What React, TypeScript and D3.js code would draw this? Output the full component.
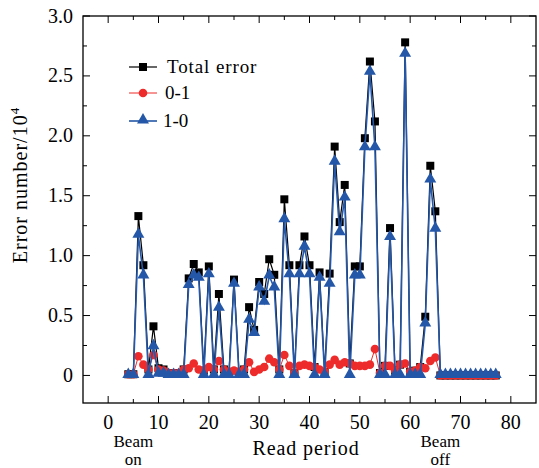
import * as d3 from 'd3';

// read periods (x) and error counts in units of 10^4
const periods = [4, 5, 6, 7, 8, 9, 10, 11, 12, 13, 14, 15, 16, 17, 18, 19, 20, 21, 22, 23, 24, 25, 26, 27, 28, 29, 30, 31, 32, 33, 34, 35, 36, 37, 38, 39, 40, 41, 42, 43, 44, 45, 46, 47, 48, 49, 50, 51, 52, 53, 54, 55, 56, 57, 58, 59, 60, 61, 62, 63, 64, 65, 66, 67, 68, 69, 70, 71, 72, 73, 74, 75, 76, 77];
const totalError = [0.01, 0.01, 1.33, 0.92, 0.05, 0.41, 0.06, 0.05, 0.02, 0.02, 0.02, 0.05, 0.81, 0.93, 0.86, 0.04, 0.91, 0.05, 0.68, 0.05, 0.03, 0.80, 0.03, 0.05, 0.57, 0.38, 0.78, 0.68, 0.97, 0.84, 0.05, 1.47, 0.92, 0.02, 0.92, 1.16, 0.92, 0.07, 0.86, 0.03, 0.85, 1.91, 1.28, 1.59, 0.10, 0.91, 0.91, 1.98, 2.62, 2.12, 0.02, 0.08, 1.23, 0.04, 0.09, 2.78, 0.03, 0.04, 0.07, 0.49, 1.75, 1.37, 0, 0, 0, 0, 0, 0, 0, 0, 0, 0, 0, 0];
const err01 = [0.01, 0.01, 0.16, 0.09, 0.05, 0.17, 0.05, 0.04, 0.02, 0.02, 0.02, 0.05, 0.06, 0.10, 0.05, 0.04, 0.07, 0.05, 0.12, 0.05, 0.03, 0.04, 0.03, 0.05, 0.11, 0.03, 0.05, 0.07, 0.14, 0.11, 0.05, 0.17, 0.08, 0.02, 0.08, 0.09, 0.08, 0.07, 0.05, 0.03, 0.09, 0.13, 0.09, 0.11, 0.10, 0.08, 0.08, 0.08, 0.09, 0.22, 0.02, 0.08, 0.08, 0.04, 0.09, 0.10, 0.03, 0.04, 0.07, 0.06, 0.12, 0.15, 0, 0, 0, 0, 0, 0, 0, 0, 0, 0, 0, 0];
const err10 = [0, 0, 1.17, 0.83, 0, 0.24, 0.01, 0.01, 0, 0, 0, 0, 0.75, 0.83, 0.81, 0, 0.84, 0, 0.56, 0, 0, 0.76, 0, 0, 0.46, 0.35, 0.73, 0.61, 0.83, 0.73, 0, 1.30, 0.84, 0, 0.84, 1.07, 0.84, 0, 0.81, 0, 0.76, 1.78, 1.19, 1.48, 0, 0.83, 0.83, 1.90, 2.53, 1.90, 0, 0, 1.15, 0, 0, 2.68, 0, 0, 0, 0.43, 1.63, 1.22, 0, 0, 0, 0, 0, 0, 0, 0, 0, 0, 0, 0];

const xTicks = [0, 10, 20, 30, 40, 50, 60, 70, 80];
const yTicks = [0, 0.5, 1.0, 1.5, 2.0, 2.5, 3.0];
const legendNames = ['Total error', '0-1', '1-0'];

const W = 539;
const H = 468;
const left = 83, right = 536, top = 16, bottom = 403;
const FONT = "'Liberation Serif', 'Times New Roman', serif";
const BLUE = '#2457a8';
const RED = '#ee2b2b';

export default function App() {
  const x = d3.scaleLinear().domain([-5, 85]).range([left, right]);
  const y = d3.scaleLinear().domain([-0.23, 3.0]).range([bottom, top]);

  const pts = (vals: number[]) => periods.map((p, i) => [x(p), y(vals[i])] as [number, number]);
  const line = d3.line();
  const sq = d3.symbol().type(d3.symbolSquare).size(64);
  const tri = d3.symbol().type(d3.symbolTriangle).size(62);

  const xMinor = d3.range(-5, 86, 5).filter(v => v % 10 !== 0 && v > -5 && v < 85);
  const yMinor = d3.range(0.25, 3, 0.5);

  const legendY = [67, 93, 121];

  return (
    <svg width={W} height={H} style={{ position: 'absolute', left: 0, top: 0, background: '#fff', fontFamily: FONT }}>
      {/* series */}
      <path d={line(pts(totalError)) || ''} fill="none" stroke="#000" strokeWidth={1.2} />
      {pts(totalError).map((p, i) => (
        <path key={'s' + i} d={sq() || ''} transform={`translate(${p[0]},${p[1]})`} fill="#000" />
      ))}
      <path d={line(pts(err01)) || ''} fill="none" stroke={RED} strokeWidth={1} />
      {pts(err01).map((p, i) => (
        <circle key={'c' + i} cx={p[0]} cy={p[1]} r={4.3} fill={RED} />
      ))}
      <path d={line(pts(err10)) || ''} fill="none" stroke={BLUE} strokeWidth={1.6} />
      {pts(err10).map((p, i) => (
        <path key={'t' + i} d={tri() || ''} transform={`translate(${p[0]},${p[1] - 1})`} fill={BLUE} />
      ))}

      {/* frame + ticks */}
      <rect x={left} y={top} width={right - left} height={bottom - top} fill="none" stroke="#000" strokeWidth={1.3} />
      {xTicks.map(t => (
        <g key={'xt' + t}>
          <line x1={x(t)} x2={x(t)} y1={bottom} y2={bottom - 7} stroke="#000" strokeWidth={1} />
          <line x1={x(t)} x2={x(t)} y1={top} y2={top + 7} stroke="#000" strokeWidth={1} />
          <text x={x(t)} y={429} textAnchor="middle" fontSize={20}>{t}</text>
        </g>
      ))}
      {xMinor.map(t => (
        <g key={'xm' + t}>
          <line x1={x(t)} x2={x(t)} y1={bottom} y2={bottom - 4} stroke="#000" strokeWidth={1} />
          <line x1={x(t)} x2={x(t)} y1={top} y2={top + 4} stroke="#000" strokeWidth={1} />
        </g>
      ))}
      {yTicks.map(t => (
        <g key={'yt' + t}>
          <line x1={left} x2={left + 7} y1={y(t)} y2={y(t)} stroke="#000" strokeWidth={1} />
          <line x1={right} x2={right - 7} y1={y(t)} y2={y(t)} stroke="#000" strokeWidth={1} />
          <text x={73} y={y(t) + 6.5} textAnchor="end" fontSize={20}>{t === 0 ? '0' : d3.format('.1f')(t)}</text>
        </g>
      ))}
      {yMinor.map(t => (
        <g key={'ym' + t}>
          <line x1={left} x2={left + 4} y1={y(t)} y2={y(t)} stroke="#000" strokeWidth={1} />
          <line x1={right} x2={right - 4} y1={y(t)} y2={y(t)} stroke="#000" strokeWidth={1} />
        </g>
      ))}

      {/* axis titles */}
      <text x={306} y={455} textAnchor="middle" fontSize={20} letterSpacing={0.9}>Read period</text>
      <text transform="translate(27,185) rotate(-90)" textAnchor="middle" fontSize={20} letterSpacing={1}>
        Error number/10<tspan dy={-8} fontSize={13}>4</tspan>
      </text>
      <text x={x(5)} y={447} textAnchor="middle" fontSize={17}>Beam</text>
      <text x={x(5)} y={465} textAnchor="middle" fontSize={17}>on</text>
      <text x={x(66)} y={447} textAnchor="middle" fontSize={17}>Beam</text>
      <text x={x(66)} y={465} textAnchor="middle" fontSize={17}>off</text>

      {/* legend */}
      <g>
        <line x1={129} x2={157} y1={legendY[0]} y2={legendY[0]} stroke="#000" strokeWidth={1.2} />
        <path d={sq() || ''} transform={`translate(143,${legendY[0]})`} fill="#000" />
        <text x={167} y={legendY[0] + 6} fontSize={19} letterSpacing={0.9}>{legendNames[0]}</text>
        <line x1={129} x2={157} y1={legendY[1]} y2={legendY[1]} stroke={RED} strokeWidth={1} />
        <circle cx={143} cy={legendY[1]} r={4.3} fill={RED} />
        <text x={165} y={legendY[1] + 6} fontSize={19}>{legendNames[1]}</text>
        <line x1={129} x2={157} y1={legendY[2]} y2={legendY[2]} stroke={BLUE} strokeWidth={1.6} />
        <path d={tri() || ''} transform={`translate(143,${legendY[2] - 1})`} fill={BLUE} />
        <text x={163} y={legendY[2] + 6} fontSize={19}>{legendNames[2]}</text>
      </g>
    </svg>
  );
}
